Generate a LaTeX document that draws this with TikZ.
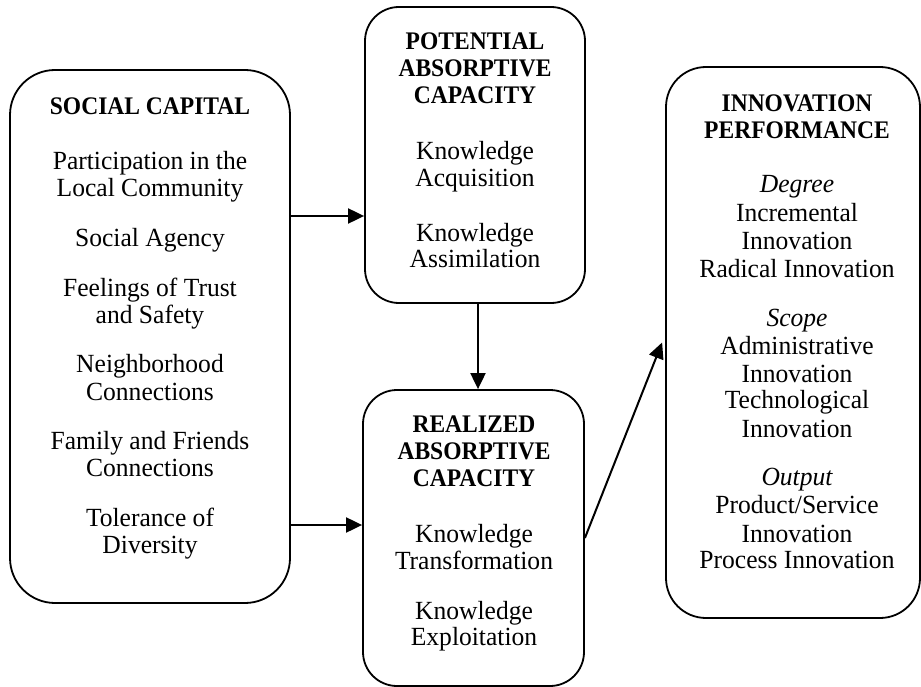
\documentclass[tikz,border=0pt]{standalone}
\usepackage{fontspec}
\setmainfont{Liberation Serif}
\newfontfamily\hdfont[FakeStretch=0.93]{Liberation Serif}
\newfontfamily\bodyfont[FakeStretch=0.975]{Liberation Serif}
\usetikzlibrary{arrows.meta}
\tikzset{
  box/.style={draw, line width=1.8pt, rounded corners=#1, inner sep=0pt},
  txt/.style={anchor=base, inner sep=0pt, font=\bodyfont\fontsize{26.2}{27.5}\selectfont},
  hd/.style={anchor=base, inner sep=0pt, font=\hdfont\fontsize{25.3}{27}\selectfont\bfseries},
  it/.style={txt, font=\bodyfont\fontsize{26.2}{27.5}\selectfont\itshape},
  arr/.style={line width=2pt, -{Triangle[length=16pt,width=15pt]}}
}
\begin{document}
\begin{tikzpicture}[x=1pt,y=-1pt]
\useasboundingbox (0,0) rectangle (921,687);
% boxes
\node[box=45pt, minimum width=280pt, minimum height=533pt] (sc) at (150,336.5) {};
\node[box=34pt, minimum width=220pt, minimum height=296pt] (pa) at (475,155) {};
\node[box=34pt, minimum width=221pt, minimum height=296pt] (ra) at (473.5,538) {};
\node[box=40pt, minimum width=254pt, minimum height=551pt] (ip) at (793,342.5) {};
% social capital
\node[hd]  (sc0)  at (150,115) {SOCIAL CAPITAL};
\node[txt] (sc1)  at (150,170) {Participation in the};
\node[txt] (sc2)  at (150,197) {Local Community};
\node[txt] (sc3)  at (150,247) {Social Agency};
\node[txt] (sc4)  at (150,296) {Feelings of Trust};
\node[txt] (sc5)  at (150,323) {and Safety};
\node[txt] (sc6)  at (150,372) {Neighborhood};
\node[txt] (sc7)  at (150,400) {Connections};
\node[txt] (sc8)  at (150,449) {Family and Friends};
\node[txt] (sc9)  at (150,476) {Connections};
\node[txt] (sc10) at (150,526) {Tolerance of};
\node[txt] (sc11) at (150,553) {Diversity};
% potential
\node[hd]  (pa0) at (475,50)  {POTENTIAL};
\node[hd]  (pa1) at (475,77)  {ABSORPTIVE};
\node[hd]  (pa2) at (475,104) {CAPACITY};
\node[txt] (pa3) at (475,160) {Knowledge};
\node[txt] (pa4) at (475,187) {Acquisition};
\node[txt] (pa5) at (475,242) {Knowledge};
\node[txt] (pa6) at (475,268) {Assimilation};
% realized
\node[hd]  (ra0) at (474,432) {REALIZED};
\node[hd]  (ra1) at (474,459) {ABSORPTIVE};
\node[hd]  (ra2) at (474,486) {CAPACITY};
\node[txt] (ra3) at (474,542) {Knowledge};
\node[txt] (ra4) at (474,569) {Transformation};
\node[txt] (ra5) at (474,619) {Knowledge};
\node[txt] (ra6) at (474,645) {Exploitation};
% innovation performance
\node[hd]  (ip0)  at (797,112) {INNOVATION};
\node[hd]  (ip1)  at (797,139) {PERFORMANCE};
\node[it]  (ip2)  at (797,193) {Degree};
\node[txt] (ip3)  at (797,222) {Incremental};
\node[txt] (ip4)  at (797,250) {Innovation};
\node[txt] (ip5)  at (797,277) {Radical Innovation};
\node[it]  (ip6)  at (797,326) {Scope};
\node[txt] (ip7)  at (797,354) {Administrative};
\node[txt] (ip8)  at (797,382) {Innovation};
\node[txt] (ip9)  at (797,408) {Technological};
\node[txt] (ip10) at (797,437) {Innovation};
\node[it]  (ip11) at (797,485) {Output};
\node[txt] (ip12) at (797,513) {Product/Service};
\node[txt] (ip13) at (797,542) {Innovation};
\node[txt] (ip14) at (797,568) {Process Innovation};
% connectors
\draw[arr] ([yshift=120.5pt]sc.east) -- ([yshift=120.5pt]sc.east -| pa.west);
\draw[arr] ([yshift=-188.5pt]sc.east) -- ([yshift=-188.5pt]sc.east -| ra.west);
\draw[arr] ([xshift=3pt]pa.south) -- ([xshift=3pt]pa.south |- ra.north);
\draw[arr] (ra.east) -- ([xshift=-3pt]ip.west);
\end{tikzpicture}
\end{document}
